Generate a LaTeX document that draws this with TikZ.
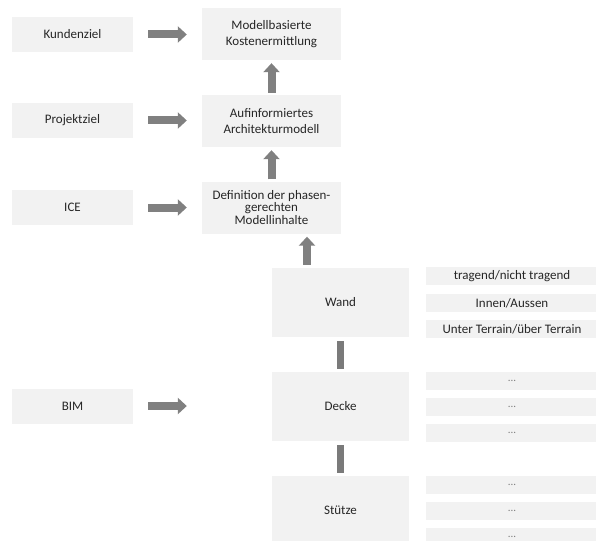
\documentclass[tikz,border=0pt]{standalone}
\usepackage{fontspec}
\setmainfont{Carlito}
\usetikzlibrary{arrows.meta,calc}
\definecolor{boxfill}{HTML}{F2F2F2}
\definecolor{arrowgray}{HTML}{808080}
\definecolor{bargray}{HTML}{7A7A7A}
\definecolor{txt}{HTML}{262626}
\definecolor{dotgray}{HTML}{7F7F7F}
\begin{document}
\begin{tikzpicture}[x=1pt,y=-1pt,
  box/.style={fill=boxfill, text=txt, font=\fontsize{13}{16}\selectfont, align=center, inner sep=0pt},
  leftbox/.style={box, minimum width=121pt, minimum height=35pt},
  midbox/.style={box, minimum width=139pt, minimum height=52pt},
  elbox/.style={box, minimum width=137pt, minimum height=69pt},
  itembox/.style={box, minimum width=172pt, minimum height=18pt},
  dotbox/.style={itembox, text=dotgray, font=\fontsize{11}{13}\selectfont},
  harrow/.style={draw=arrowgray, line width=8pt, -{Triangle[length=9pt,width=16pt]}},
  bar/.style={draw=bargray, line width=7pt, line cap=butt, rounded corners=1.5pt}]
\useasboundingbox (0,0) rectangle (596,540);
\clip (0,0) rectangle (596,540);
\fill[white] (0,0) rectangle (596,540);
% left
\node[leftbox] (kunde) at (72.5,34.5) {Kundenziel};
\node[leftbox] (projekt) at (72.5,120.5) {Projektziel};
\node[leftbox] (ice) at (72.5,207.5) {ICE};
\node[leftbox] (bim) at (72.5,406) {BIM};
% middle
\node[midbox] (modell) at (271.5,34) {Modellbasierte\\Kostenermittlung};
\node[midbox] (aufin) at (271.5,121) {Aufinformiertes\\Architekturmodell};
\node[midbox, font=\fontsize{13}{12.5}\selectfont] (def) at (271.5,207.5) {Definition der phasen-\\gerechten\\Modellinhalte};
% elements
\node[elbox] (wand) at (340.5,302.5) {Wand};
\node[elbox] (decke) at (340.5,406.5) {Decke};
\node[elbox] (stuetze) at (340.5,510.5) {Stütze};
% items
\node[itembox] (w1) at (512,276) {tragend/nicht tragend};
\node[itembox] (w2) at (512,303) {Innen/Aussen};
\node[itembox] (w3) at (512,329) {Unter Terrain/über Terrain};
\node[dotbox] (d1) at (512,380.5) {...};
\node[dotbox] (d2) at (512,406.5) {...};
\node[dotbox] (d3) at (512,432.5) {...};
\node[dotbox] (s1) at (512,484.5) {...};
\node[dotbox] (s2) at (512,510.5) {...};
\node[dotbox] (s3) at (512,536.5) {...};
% horizontal arrows
\draw[harrow, shorten <=15pt, shorten >=15pt] (kunde.east) -- (kunde.east -| modell.west);
\draw[harrow, shorten <=15pt, shorten >=15pt] (projekt.east) -- (projekt.east -| aufin.west);
\draw[harrow, shorten <=15pt, shorten >=15pt] (ice.east) -- (ice.east -| def.west);
\draw[harrow, shorten <=15pt, shorten >=15pt] (bim.east) -- (bim.east -| def.west);
% up arrows
\draw[harrow, shorten <=2pt, shorten >=3pt] (aufin.north) -- (modell.south);
\draw[harrow, shorten <=2pt, shorten >=3pt] (def.north) -- (aufin.south);
\draw[harrow, shorten <=3pt, shorten >=3pt] ([xshift=-33.5pt]wand.north) -- ([xshift=-33.5pt]wand.north |- def.south);
% bars
\draw[bar, shorten <=4pt, shorten >=3pt] (wand.south) -- (decke.north);
\draw[bar, shorten <=4pt, shorten >=3pt] (decke.south) -- (stuetze.north);
\end{tikzpicture}
\end{document}
